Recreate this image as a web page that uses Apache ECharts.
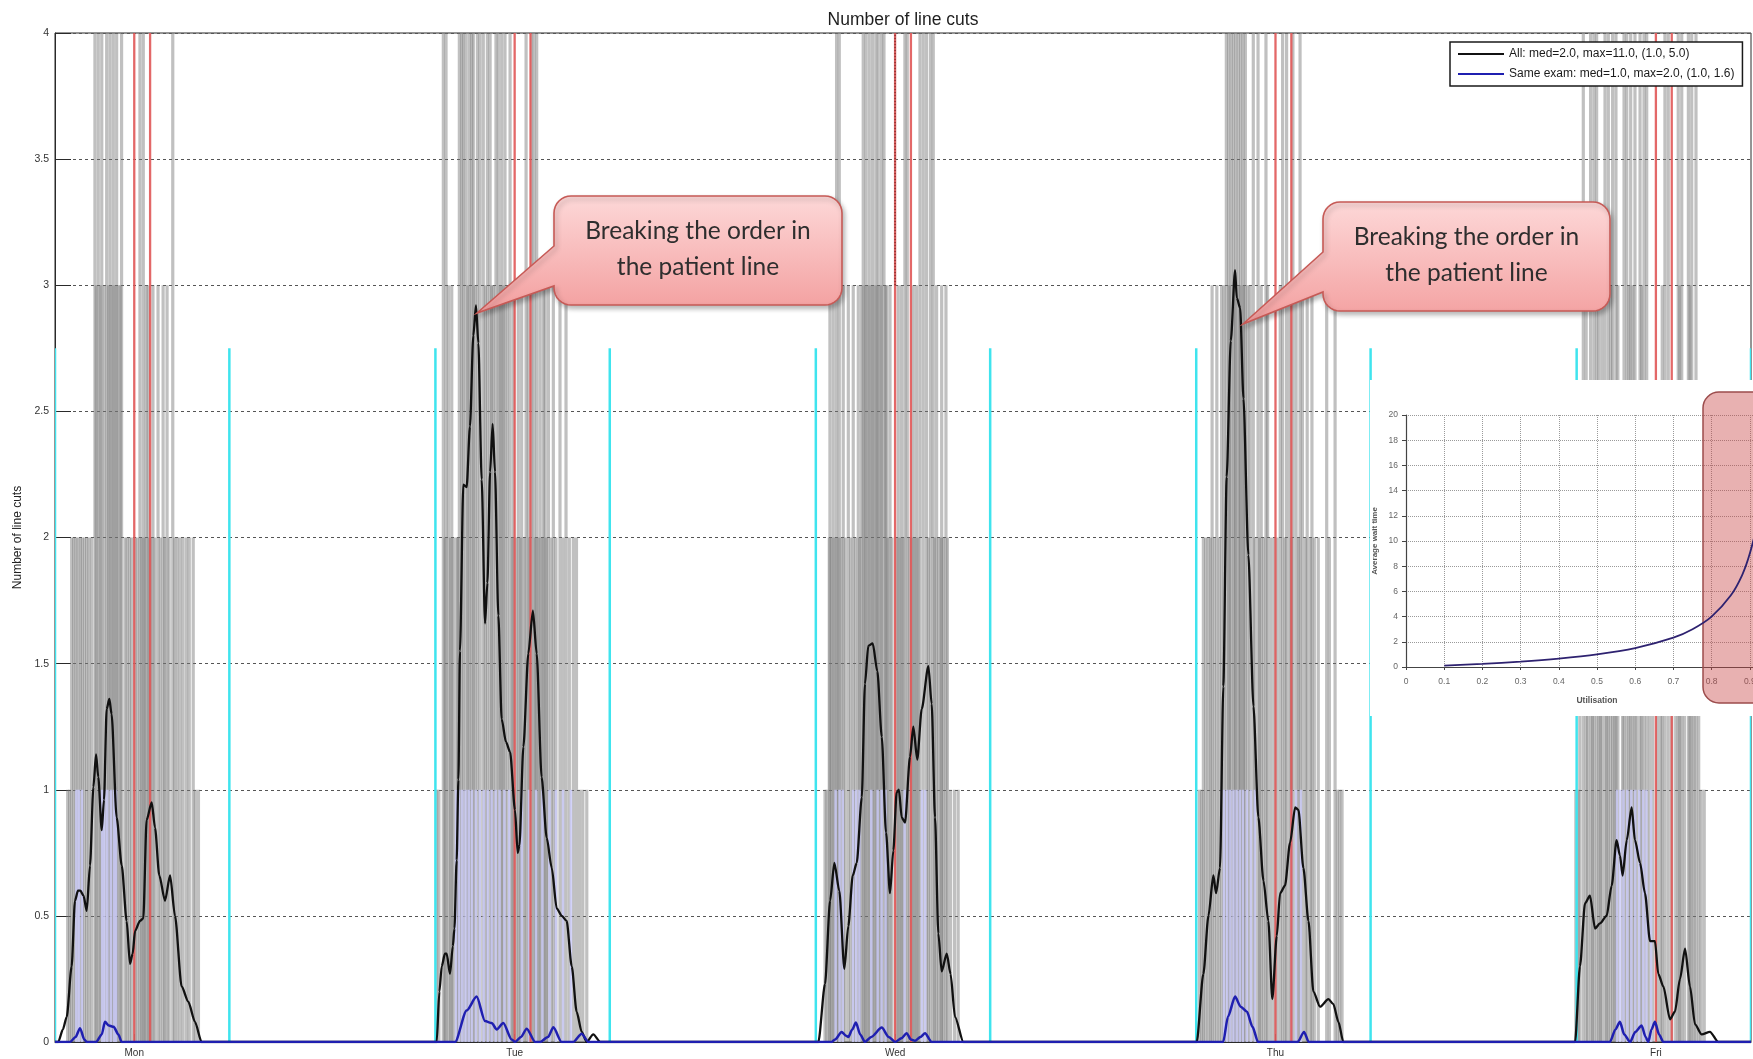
<!DOCTYPE html>
<html>
<head>
<meta charset="utf-8">
<title>Number of line cuts</title>
<script src="https://cdn.jsdelivr.net/npm/echarts@6/dist/echarts.min.js"></script>
<style>
  html, body { margin: 0; padding: 0; background: #ffffff; }
  #chart { width: 1753px; height: 1059px; }
</style>
</head>
<body>
<div id="chart"></div>
<script>
// ---- Week layout -----------------------------------------------------------
const dayNames = ['Mon', 'Tue', 'Wed', 'Thu', 'Fri'];
const shiftHours = [7, 18];          // opening / closing hour of each day
const shiftMarkTop = 2.75;           // height of the opening/closing markers
const lunchHours = [12, 13];         // lunch break markers
const weekStart = 7;                 // Monday 07:00
const weekEnd = 114;                 // Friday 18:00

// ---- Individual line-cut events: [hour of day, number of cuts] ------------
const cutsMon = [
  [7.80,1],[7.92,1],[8.05,2],[8.18,2],[8.32,2],[8.45,2],[8.60,2],[8.72,2],[8.86,2],[9.00,2],[9.14,2],[9.30,2],
  [9.52,5],[9.60,3],[9.73,4],[9.85,3],[9.95,6],[10.10,3],[10.26,4],[10.37,3],[10.47,5],[10.58,3],[10.68,4],
  [10.78,3],[10.89,5],[10.98,3],[11.12,3],[11.20,4],[11.42,2],[11.55,2],[11.70,2],[11.84,2],[12.05,2],[12.20,2],
  [12.36,4],[12.45,2],[12.57,5],[12.65,2],[12.75,3],[12.88,3],[12.95,2],[13.05,2],[13.18,3],[13.30,2],[13.50,3],
  [13.65,2],[13.82,3],[13.92,2],[14.07,3],[14.20,2],[14.43,4],[14.55,2],[14.72,2],[14.90,2],[15.08,2],[15.30,2],
  [15.47,2],[15.72,2],[15.85,1],[16.05,1]
];
const cutsTue = [
  [7.08,1],[7.22,1],[7.50,4],[7.60,2],[7.67,5],[7.82,3],[7.95,2],[8.03,3],[8.15,2],[8.35,2],[8.42,2],[8.51,4],
  [8.66,6],[8.76,5],[8.93,4],[9.05,3],[9.14,7],[9.29,5],[9.39,4],[9.50,3],[9.65,8],[9.81,5],[10.02,4],[10.15,3],
  [10.28,6],[10.45,5],[10.55,3],[10.66,3],[10.82,4],[10.97,5],[11.08,3],[11.18,4],[11.28,3],[11.39,6],[11.54,3],
  [11.71,4],[11.85,2],[11.92,3],[12.10,2],[12.23,3],[12.35,2],[12.44,3],[12.60,2],[12.72,5],[12.86,3],[12.95,2],
  [13.07,4],[13.22,6],[13.30,2],[13.39,5],[13.50,2],[13.60,3],[13.72,2],[13.81,3],[13.92,3],[14.00,2],[14.13,3],
  [14.30,2],[14.44,3],[14.60,2],[14.86,3],[15.05,2],[15.24,3],[15.45,2],[15.70,2],[15.90,2],[16.10,1],[16.30,1],
  [16.55,1]
];
const cutsWed = [
  [7.58,1],[7.70,1],[7.85,2],[7.89,3],[8.00,2],[8.10,3],[8.20,2],[8.31,4],[8.40,2],[8.48,5],[8.60,2],[8.73,3],
  [8.85,2],[9.05,3],[9.20,2],[9.36,3],[9.50,2],[9.68,3],[9.75,2],[9.89,3],[9.99,6],[10.10,3],[10.16,5],[10.30,3],
  [10.37,4],[10.50,3],[10.58,7],[10.70,3],[10.79,5],[10.90,3],[10.94,4],[11.10,3],[11.15,6],[11.30,4],[11.40,3],
  [11.47,3],[11.55,2],[11.68,3],[11.80,2],[12.10,2],[12.20,3],[12.30,2],[12.41,3],[12.50,2],[12.62,5],[12.77,4],
  [12.90,2],[13.05,2],[13.15,3],[13.25,2],[13.36,3],[13.45,2],[13.57,5],[13.78,4],[13.99,6],[14.10,2],[14.24,4],
  [14.41,5],[14.50,2],[14.62,3],[14.75,2],[14.90,2],[14.94,3],[15.05,2],[15.21,3],[15.30,2],[15.50,1],[15.75,1],
  [15.98,1]
];
const cutsThu = [
  [7.20,1],[7.35,1],[7.45,2],[7.60,2],[7.75,2],[7.90,2],[8.00,3],[8.15,2],[8.30,3],[8.45,2],[8.60,3],[8.75,3],
  [8.90,5],[9.05,4],[9.10,3],[9.20,6],[9.35,11],[9.45,3],[9.50,5],[9.65,4],[9.75,3],[9.80,6],[9.95,5],[10.00,3],
  [10.10,4],[10.25,3],[10.40,3],[10.60,5],[10.70,2],[10.90,4],[11.00,2],[11.10,3],[11.25,2],[11.40,5],[11.50,3],
  [11.70,2],[11.90,2],[12.10,2],[12.30,3],[12.45,4],[12.60,2],[12.70,5],[12.90,3],[13.00,2],[13.10,4],[13.30,3],
  [13.45,2],[13.55,6],[13.70,3],[13.90,2],[14.00,3],[14.20,2],[14.30,3],[14.45,2],[14.70,2],[15.23,3],[15.40,2],
  [15.76,3],[15.90,1],[16.05,1],[16.20,1]
];
const cutsFri = [
  [6.95,1],[7.10,1],[7.20,2],[7.42,4],[7.60,3],[7.70,2],[7.88,5],[8.00,2],[8.09,4],[8.26,6],[8.40,3],[8.50,2],
  [8.60,3],[8.79,5],[8.90,2],[9.00,4],[9.15,3],[9.27,5],[9.40,2],[9.48,4],[9.60,3],[9.90,2],[9.99,6],[10.16,5],
  [10.30,3],[10.41,4],[10.55,3],[10.68,5],[10.80,2],[11.00,4],[11.10,3],[11.25,6],[11.42,5],[11.60,2],[11.80,2],
  [12.10,2],[12.30,2],[12.40,3],[12.57,4],[12.78,5],[13.00,2],[13.25,2],[13.41,4],[13.50,3],[13.63,5],[13.80,2],
  [14.05,4],[14.15,3],[14.26,5],[14.40,2],[14.53,4],[14.70,2],[14.85,1],[15.05,1]
];

// ---- Same-exam line cuts: [hour of day, number of cuts] --------------------
const sameMon = [[8.35,1],[8.50,1],[8.70,1],[9.98,1],[10.12,1],[10.30,1],[10.52,1],[10.72,1],[10.85,1]];
const sameTue = [[8.30,1],[8.50,1],[8.70,1],[8.90,1],[9.10,1],[9.30,1],[9.55,1],[9.80,1],[10.05,1],[10.30,1],
                 [10.55,1],[10.80,1],[11.05,1],[11.35,1],[11.65,1],[12.45,1],[12.90,1],[13.35,1],[13.75,1],
                 [14.20,1],[14.60,1],[15.05,1],[15.55,1]];
const sameWed = [[8.25,1],[8.50,1],[8.70,1],[9.35,1],[9.55,1],[9.75,1],[10.50,1],[10.90,1],[11.15,1],[11.40,1],
                 [12.60,1],[13.70,1],[13.90,1]];
const sameThu = [[8.75,1],[8.95,1],[9.15,1],[9.35,1],[9.55,1],[9.75,1],[9.95,1],[10.20,1],[10.45,1],[10.70,1],
                 [13.00,1],[13.30,1],[13.60,1]];
const sameFri = [[9.55,1],[9.75,1],[9.95,1],[10.20,1],[10.45,1],[10.70,1],[10.95,1],[11.20,1],[11.40,1],[11.70,1]];

// ---- Smoothed rate of line cuts, all patients: [hour of day, value] -------
const allMon = [[7.00,0],[7.20,0],[7.50,0.05],[7.74,0.10],[8.05,0.30],[8.26,0.56],[8.45,0.60],[8.60,0.60],[8.80,0.58],
  [9.00,0.52],[9.21,0.70],[9.42,1.01],[9.59,1.14],[9.73,1.05],[9.95,0.84],[10.09,0.96],[10.26,1.32],[10.43,1.36],
  [10.57,1.30],[10.89,0.89],[11.21,0.70],[11.52,0.48],[11.73,0.31],[11.90,0.35],[12.05,0.44],[12.36,0.48],
  [12.57,0.49],[12.78,0.88],[13.10,0.95],[13.31,0.85],[13.58,0.66],[13.94,0.56],[14.26,0.66],[14.57,0.50],
  [14.99,0.22],[15.41,0.16],[15.83,0.08],[16.25,0]];
const allTue = [[7.08,0],[7.25,0.20],[7.40,0.30],[7.60,0.35],[7.71,0.35],[7.92,0.27],[8.10,0.38],[8.20,0.45],
  [8.34,0.72],[8.45,1.04],[8.55,1.55],[8.76,2.21],[8.97,2.20],[9.18,2.44],[9.39,2.80],[9.56,2.92],[9.71,2.77],
  [9.92,2.23],[10.13,1.66],[10.28,1.82],[10.45,2.26],[10.61,2.45],[10.76,2.26],[10.97,1.69],[11.18,1.28],
  [11.45,1.19],[11.71,1.15],[12.02,0.92],[12.19,0.75],[12.30,0.78],[12.55,1.17],[12.86,1.54],[13.15,1.71],
  [13.39,1.54],[13.70,1.05],[14.02,0.81],[14.34,0.69],[14.65,0.53],[14.97,0.50],[15.28,0.48],[15.60,0.30],
  [15.91,0.12],[16.23,0.04],[16.54,0],[16.96,0.03],[17.40,0]];
const allWed = [[7.16,0],[7.58,0.23],[7.90,0.56],[8.17,0.71],[8.48,0.60],[8.80,0.29],[9.05,0.46],[9.33,0.66],
  [9.58,0.71],[9.90,0.97],[10.10,1.42],[10.31,1.57],[10.59,1.58],[10.88,1.47],[11.16,1.21],[11.43,0.83],
  [11.68,0.59],[11.89,0.76],[12.10,0.99],[12.24,1.00],[12.42,0.89],[12.63,0.87],[12.94,1.13],[13.15,1.25],
  [13.40,1.12],[13.68,1.32],[14.10,1.49],[14.31,1.34],[14.52,0.89],[14.73,0.43],[14.94,0.28],[15.26,0.35],
  [15.50,0.27],[15.78,0.10],[16.31,0]];
const allThu = [[7.03,0],[7.45,0.27],[7.77,0.50],[8.08,0.66],[8.25,0.59],[8.50,0.69],[8.71,1.41],[8.92,2.24],
  [9.18,2.78],[9.45,3.06],[9.56,2.95],[9.77,2.91],[9.98,2.55],[10.29,1.93],[10.61,1.33],[10.92,0.89],
  [11.24,0.64],[11.55,0.48],[11.80,0.17],[12.08,0.42],[12.29,0.59],[12.60,0.62],[12.92,0.79],[13.24,0.93],
  [13.45,0.92],[13.76,0.69],[14.08,0.48],[14.39,0.20],[14.81,0.14],[15.34,0.17],[15.65,0.15],[15.97,0.08],
  [16.28,0]];
const allFri = [[6.90,0],[7.21,0.30],[7.53,0.55],[7.84,0.58],[8.16,0.45],[8.47,0.47],[8.89,0.50],[9.21,0.62],
  [9.52,0.80],[9.73,0.74],[9.90,0.66],[10.16,0.80],[10.47,0.93],[10.68,0.80],[11.00,0.71],[11.31,0.59],
  [11.63,0.40],[11.94,0.40],[12.15,0.27],[12.47,0.22],[12.89,0.09],[13.20,0.12],[13.52,0.25],[13.84,0.37],
  [14.15,0.22],[14.47,0.07],[14.89,0.03],[15.41,0.04],[15.94,0]];

// ---- Smoothed rate of line cuts, same exam: [hour of day, value] ----------
const sameCurveMon = [[7.95,0],[8.30,0.02],[8.58,0.055],[8.85,0.01],[9.00,0],[9.60,0],[9.95,0.03],[10.15,0.08],
  [10.40,0.065],[10.70,0.06],[11.00,0.03],[11.20,0]];
const sameCurveTue = [[8.24,0],[8.97,0.125],[9.60,0.18],[10.13,0.083],[10.55,0.075],[10.87,0.05],[11.28,0.075],
  [11.81,0.01],[12.02,0],[12.40,0.02],[12.76,0.053],[13.29,0],[13.60,0],[14.10,0.02],[14.44,0.058],[14.96,0],
  [15.70,0],[16.23,0.033],[16.65,0]];
const sameCurveWed = [[8.00,0],[8.21,0.01],[8.63,0.04],[8.90,0.025],[9.05,0.02],[9.30,0.05],[9.53,0.077],
  [9.80,0.03],[10.10,0],[10.50,0.02],[11.16,0.057],[11.60,0.02],[12.00,0],[12.40,0.015],[12.73,0.035],
  [13.00,0.01],[13.26,0.005],[13.60,0.02],[13.89,0.035],[14.31,0]];
const sameCurveThu = [[8.70,0],[9.00,0.10],[9.45,0.18],[9.80,0.14],[10.20,0.12],[10.55,0.06],[10.90,0],
  [13.40,0],[13.80,0.04],[14.10,0]];
const sameCurveFri = [[9.10,0],[9.45,0.05],[9.73,0.08],[10.00,0.03],[10.37,0],[10.70,0.04],[11.10,0.065],
  [11.35,0.02],[11.52,0],[11.72,0.05],[11.94,0.08],[12.20,0.03],[12.47,0]];

// ---- Extra dotted segment on the Wednesday lunch marker: [hour, from, to] -
const dottedMarks = [[60, 3, 4]];

// ---- Queueing inset: average wait time against utilisation ----------------
const utilisation = [0.10, 0.20, 0.30, 0.40, 0.50, 0.60, 0.70, 0.75, 0.80, 0.85, 0.88, 0.90, 0.92, 0.94, 0.95];
const waitTime    = [0.11, 0.25, 0.43, 0.67, 1.00, 1.50, 2.33, 3.00, 4.00, 5.67, 7.30, 9.00, 11.5, 15.7, 19.0];

// ---- Labels ---------------------------------------------------------------
const allName = 'All: med=2.0, max=11.0, (1.0, 5.0)';
const sameName = 'Same exam: med=1.0, max=2.0, (1.0, 1.6)';
const calloutText = ['Breaking the order in', 'the patient line'];

// ---- Build series data ----------------------------------------------------
const toWeek = (lists) => lists.flatMap((list, d) => list.map(([h, v]) => [d * 24 + h, v]));
const asSegments = (pts) => pts.map(([x, v]) => [x, 0, v]);

const grayData = asSegments(toWeek([cutsMon, cutsTue, cutsWed, cutsThu, cutsFri]));
const sameData = asSegments(toWeek([sameMon, sameTue, sameWed, sameThu, sameFri]));
const allCurve = [[weekStart, 0]].concat(toWeek([allMon, allTue, allWed, allThu, allFri]), [[weekEnd, 0]]);
const sameCurve = [[weekStart, 0]].concat(toWeek([sameCurveMon, sameCurveTue, sameCurveWed, sameCurveThu, sameCurveFri]), [[weekEnd, 0]]);
const shiftData = dayNames.flatMap((_, d) => shiftHours.map(h => [d * 24 + h, 0, shiftMarkTop]));
const lunchData = dayNames.flatMap((_, d) => lunchHours.map(h => [d * 24 + h, 0, 4]));
const dayTicks = dayNames.map((_, d) => d * 24 + 12);
const insetCurve = utilisation.map((u, i) => [u, waitTime[i]]);

const FONT = '"Liberation Sans", Arial, sans-serif';
const Y_MAX = 4;

// vertical segment from value(1) to value(2) at x = value(0)
function segmentItem(stroke, width, dash) {
  return function (params, api) {
    const x = api.value(0);
    const a = api.coord([x, api.value(1)]);
    const b = api.coord([x, Math.min(api.value(2), Y_MAX)]);
    return {
      type: 'line',
      shape: { x1: a[0], y1: a[1], x2: b[0], y2: b[1] },
      style: { stroke: stroke, lineWidth: width, lineDash: dash || null }
    };
  };
}

// outline of a rounded box with a pointer wedge on its left side
function calloutPoints(x0, y0, x1, y1, r, wedgeTop, wedgeBottom, tip) {
  const pts = [];
  const arc = (cx, cy, a0, a1) => {
    const n = 8;
    for (let i = 0; i <= n; i++) {
      const a = a0 + (a1 - a0) * i / n;
      pts.push([cx + r * Math.cos(a), cy + r * Math.sin(a)]);
    }
  };
  arc(x0 + r, y0 + r, Math.PI, Math.PI * 1.5);        // top-left
  arc(x1 - r, y0 + r, Math.PI * 1.5, Math.PI * 2);    // top-right
  arc(x1 - r, y1 - r, 0, Math.PI * 0.5);              // bottom-right
  arc(x0 + r, y1 - r, Math.PI * 0.5, Math.PI);        // bottom-left
  pts.push([x0, wedgeBottom], tip, [x0, wedgeTop]);
  return pts;
}

function callout(box, tip) {
  const [x0, y0, x1, y1] = box;
  const cx = (x0 + x1) / 2;
  const font = '24.5px Lato, "Open Sans", sans-serif';
  return [
    {
      type: 'polygon', zlevel: 2, z: 1, silent: true,
      shape: { points: calloutPoints(x0, y0, x1, y1, 17, y0 + 50, y0 + 90, tip) },
      style: {
        fill: { type: 'linear', x: 0, y: 0, x2: 0, y2: 1,
                colorStops: [{ offset: 0, color: '#fdd8d8' }, { offset: 1, color: '#f39e9e' }] },
        stroke: '#c65a56', lineWidth: 1.6,
        shadowBlur: 5, shadowOffsetX: 2, shadowOffsetY: 3, shadowColor: 'rgba(0,0,0,0.28)'
      }
    },
    { type: 'text', zlevel: 2, z: 2, x: cx, y: y0 + 35, silent: true,
      style: { text: calloutText[0], font: font, fill: '#2e2e2e', align: 'center', verticalAlign: 'middle' } },
    { type: 'text', zlevel: 2, z: 2, x: cx, y: y0 + 71, silent: true,
      style: { text: calloutText[1], font: font, fill: '#2e2e2e', align: 'center', verticalAlign: 'middle' } }
  ];
}

const chart = echarts.init(document.getElementById('chart'), null, { renderer: 'canvas' });

chart.setOption({
  animation: false,
  backgroundColor: '#ffffff',
  title: {
    text: 'Number of line cuts', left: 898, top: 6, textAlign: 'center',
    textStyle: { fontFamily: FONT, fontSize: 17.5, fontWeight: 'normal', color: '#1e1e1e' }
  },
  legend: {
    data: [allName, sameName],
    orient: 'vertical', left: 1450, top: 42,
    icon: 'rect', itemWidth: 46, itemHeight: 2, itemGap: 8,
    padding: [6, 8, 6, 8],
    borderColor: '#1a1a1a', borderWidth: 1.5, backgroundColor: '#ffffff',
    textStyle: { fontFamily: FONT, fontSize: 12, color: '#1a1a1a' }
  },
  grid: [
    { left: 55, top: 33, right: 2, bottom: 17, show: true, borderColor: '#2a2a2a', borderWidth: 1,
      outerBoundsMode: 'none' },
    { left: 1406, top: 415, width: 382, height: 252, zlevel: 1, outerBoundsMode: 'none' }
  ],
  xAxis: [
    {
      type: 'value', gridIndex: 0, min: weekStart, max: weekEnd,
      splitLine: { show: false },
      axisLine: { lineStyle: { color: '#2a2a2a' } },
      axisTick: { inside: true, length: 8, customValues: dayTicks, lineStyle: { color: '#2a2a2a' } },
      axisLabel: {
        customValues: dayTicks, margin: 6,
        formatter: (v) => dayNames[Math.round((v - 12) / 24)],
        fontFamily: FONT, fontSize: 10, color: '#333333'
      }
    },
    {
      type: 'value', gridIndex: 1, min: 0, max: 1, interval: 0.1, zlevel: 1, z: 1,
      name: 'Utilisation', nameLocation: 'middle', nameGap: 29,
      nameTextStyle: { fontFamily: FONT, fontSize: 8.5, fontWeight: 'bold', color: '#555555' },
      axisLine: { lineStyle: { color: '#444444', width: 1.2 } },
      axisTick: { length: 3, lineStyle: { color: '#444444' } },
      axisLabel: { fontFamily: FONT, fontSize: 8.5, color: '#666666', margin: 10 },
      splitLine: { show: true, lineStyle: { type: 'dotted', color: '#9a9a9a', width: 1 } }
    }
  ],
  yAxis: [
    {
      type: 'value', gridIndex: 0, min: 0, max: Y_MAX, interval: 0.5,
      name: 'Number of line cuts', nameLocation: 'middle', nameGap: 31,
      nameTextStyle: { fontFamily: FONT, fontSize: 12, color: '#222222' },
      axisLine: { show: true, lineStyle: { color: '#2a2a2a' } },
      axisTick: { show: true, inside: true, length: 16, lineStyle: { color: '#2a2a2a' } },
      axisLabel: { fontFamily: FONT, fontSize: 10.5, color: '#333333', margin: 6 },
      splitLine: { show: true, lineStyle: { type: [3, 3], color: '#555555', width: 1 } }
    },
    {
      type: 'value', gridIndex: 1, min: 0, max: 20, interval: 2, zlevel: 1, z: 1,
      name: 'Average wait time', nameLocation: 'middle', nameGap: 27,
      nameTextStyle: { fontFamily: FONT, fontSize: 8, fontWeight: 'bold', color: '#555555' },
      axisLine: { show: true, lineStyle: { color: '#444444', width: 1.2 } },
      axisTick: { show: true, length: 4, lineStyle: { color: '#444444' } },
      axisLabel: { fontFamily: FONT, fontSize: 8.5, color: '#666666', margin: 8 },
      splitLine: { show: true, lineStyle: { type: 'dotted', color: '#9a9a9a', width: 1 } }
    }
  ],
  series: [
    {
      name: 'cuts', type: 'custom', xAxisIndex: 0, yAxisIndex: 0, z: 1, clip: true,
      encode: { x: 0, y: [1, 2] }, silent: true,
      renderItem: segmentItem('rgba(118,118,118,0.46)', 3.2),
      data: grayData
    },
    {
      name: 'same exam cuts', type: 'custom', xAxisIndex: 0, yAxisIndex: 0, z: 2, clip: true,
      encode: { x: 0, y: [1, 2] }, silent: true,
      renderItem: segmentItem('rgba(204,204,250,0.8)', 2.5),
      data: sameData
    },
    {
      name: 'shift', type: 'custom', xAxisIndex: 0, yAxisIndex: 0, z: 3, clip: true,
      encode: { x: 0, y: [1, 2] }, silent: true,
      renderItem: segmentItem('#3fe4ee', 2.5),
      data: shiftData
    },
    {
      name: 'lunch', type: 'custom', xAxisIndex: 0, yAxisIndex: 0, z: 3, clip: true,
      encode: { x: 0, y: [1, 2] }, silent: true,
      renderItem: segmentItem('rgba(224,88,88,0.9)', 2.3),
      data: lunchData
    },
    {
      name: 'lunch dotted', type: 'custom', xAxisIndex: 0, yAxisIndex: 0, z: 3, clip: true,
      encode: { x: 0, y: [1, 2] }, silent: true,
      renderItem: segmentItem('#8a2a2a', 1.5, [1.5, 1.5]),
      data: dottedMarks
    },
    {
      name: allName, type: 'line', xAxisIndex: 0, yAxisIndex: 0, z: 4,
      data: allCurve, showSymbol: false, smooth: 0.25, smoothMonotone: 'x',
      color: '#111111', lineStyle: { color: '#111111', width: 2.3 }
    },
    {
      name: sameName, type: 'line', xAxisIndex: 0, yAxisIndex: 0, z: 5,
      data: sameCurve, showSymbol: false, smooth: 0.25, smoothMonotone: 'x',
      color: '#1f1fb0', lineStyle: { color: '#1f1fb0', width: 2.5 }
    },
    {
      name: 'inset wait', type: 'line', xAxisIndex: 1, yAxisIndex: 1, zlevel: 1, z: 5,
      data: insetCurve, showSymbol: false, smooth: 0.3,
      lineStyle: { color: '#2e2270', width: 1.8 }, silent: true
    }
  ],
  graphic: {
    elements: [
      // inset background
      { type: 'rect', zlevel: 1, z: -10, silent: true,
        shape: { x: 1370, y: 380, width: 383, height: 336 },
        style: { fill: '#ffffff' } },
      // high-utilisation highlight in the inset
      { type: 'rect', zlevel: 1, z: 3, silent: true,
        shape: { x: 1703, y: 392, width: 110, height: 311, r: 16 },
        style: { fill: 'rgba(200,70,70,0.42)', stroke: '#9c4c4c', lineWidth: 1.5 } }
    ].concat(
      callout([554, 196, 842, 305], [477, 313]),
      callout([1323, 202, 1610, 311], [1243, 324])
    )
  }
});
</script>
</body>
</html>
